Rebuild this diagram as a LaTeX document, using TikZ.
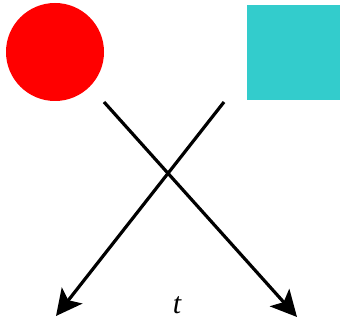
\documentclass[tikz,border=0pt]{standalone}
\usepackage{fontspec}
\setmainfont{Liberation Serif}
\usetikzlibrary{positioning,arrows.meta}
\definecolor{boxcyan}{RGB}{51,204,204}

\begin{document}
\begin{tikzpicture}[x=1pt,y=-1pt,>={Stealth[length=26pt,width=26pt,inset=6pt]}]
\useasboundingbox (0,0) rectangle (340,323);
\node[circle,fill=red,minimum size=98pt,inner sep=0pt] (ball) at (55,52) {};
\node[fill=boxcyan,minimum width=93pt,minimum height=95pt,inner sep=0pt] (box) at (293.5,52.5) {};
\coordinate (s1) at (104,102);
\coordinate (s2) at (224,102);
\coordinate (e1) at (297,317);
\coordinate (e2) at (56,316);
\draw[->,line width=3.2pt] (s1) -- (e1);
\draw[->,line width=3.2pt] (s2) -- (e2);
\node[font=\fontsize{30}{34}\selectfont\itshape] (t) at (177,305) {t};
\end{tikzpicture}
\end{document}
